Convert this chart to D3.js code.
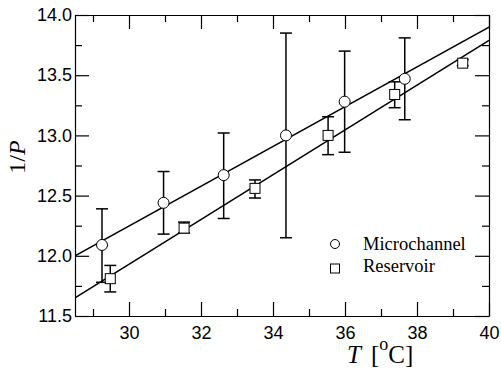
<!DOCTYPE html>
<html>
<head>
<meta charset="utf-8">
<script src="https://cdn.jsdelivr.net/npm/d3@7"></script>
<style>
  body { margin: 0; background: #fff; }
  svg { display: block; }
</style>
</head>
<body>
<div id="chart"></div>
<script>
// microchannel (circles)
const micT = [29.25, 30.96, 32.63, 34.36, 35.99, 37.66];
const micVal = [12.09, 12.44, 12.67, 13.00, 13.28, 13.47];
const micLo = [11.78, 12.18, 12.31, 12.15, 12.86, 13.13];
const micHi = [12.39, 12.70, 13.02, 13.85, 13.70, 13.81];

// reservoir (squares)
const resT = [29.48, 31.53, 33.50, 35.53, 37.38, 39.27];
const resVal = [11.81, 12.23, 12.56, 13.00, 13.34, 13.60];
const resLo = [11.70, 12.19, 12.48, 12.84, 13.23, 13.58];
const resHi = [11.92, 12.28, 12.63, 13.155, 13.445, 13.63];

// linear fits
const fitT = [28.5, 40];
const micFit = [12.00, 13.90];
const resFit = [11.65, 13.79];

// ticks
const xMajor = [30, 32, 34, 36, 38, 40];
const xMinor = [29, 31, 33, 35, 37, 39];
const yMajor = [11.5, 12.0, 12.5, 13.0, 13.5, 14.0];
const yMinor = [11.75, 12.25, 12.75, 13.25, 13.75];

const margin = { top: 15, right: 12, bottom: 55, left: 75 };
const width = 501 - margin.left - margin.right;
const height = 371 - margin.top - margin.bottom;

const x = d3.scaleLinear().domain([28.5, 40]).range([0, width]);
const y = d3.scaleLinear().domain([11.5, 14]).range([height, 0]);

const svg = d3.select("#chart")
    .append("svg")
    .attr("width", width + margin.left + margin.right)
    .attr("height", height + margin.top + margin.bottom)
    .append("g")
    .attr("transform", `translate(${margin.left}, ${margin.top})`);

const sans = "'Liberation Sans', Arial, Helvetica, sans-serif";
const serif = "'Liberation Serif', 'Times New Roman', Times, serif";

// axes with inward ticks
function styleAxis(g) {
    g.selectAll("path, line").attr("stroke", "#000").attr("stroke-width", 1.2);
    g.selectAll("text").attr("fill", "#000").style("font-family", sans).style("font-size", "18px");
}

svg.append("g")
    .attr("transform", `translate(0, ${height})`)
    .call(d3.axisBottom(x).tickValues(xMajor).tickSizeInner(-14).tickSizeOuter(0)
        .tickPadding(10).tickFormat(d3.format("d")))
    .call(styleAxis);
svg.append("g")
    .attr("transform", `translate(0, ${height})`)
    .call(d3.axisBottom(x).tickValues(xMinor).tickSize(-7).tickFormat(""))
    .call(g => g.select(".domain").remove())
    .call(styleAxis);

svg.append("g")
    .call(d3.axisTop(x).tickValues(xMajor).tickSizeInner(-14).tickSizeOuter(0).tickFormat(""))
    .call(styleAxis);
svg.append("g")
    .call(d3.axisTop(x).tickValues(xMinor).tickSize(-7).tickFormat(""))
    .call(g => g.select(".domain").remove())
    .call(styleAxis);

svg.append("g")
    .call(d3.axisLeft(y).tickValues(yMajor).tickSizeInner(-14).tickSizeOuter(0)
        .tickPadding(4).tickFormat(d3.format(".1f")))
    .call(styleAxis)
    .call(g => g.selectAll("text").attr("x", -3));
svg.append("g")
    .call(d3.axisLeft(y).tickValues(yMinor).tickSize(-7).tickFormat(""))
    .call(g => g.select(".domain").remove())
    .call(styleAxis);

svg.append("g")
    .attr("transform", `translate(${width}, 0)`)
    .call(d3.axisRight(y).tickValues(yMajor).tickSizeInner(-14).tickSizeOuter(0).tickFormat(""))
    .call(styleAxis);
svg.append("g")
    .attr("transform", `translate(${width}, 0)`)
    .call(d3.axisRight(y).tickValues(yMinor).tickSize(-7).tickFormat(""))
    .call(g => g.select(".domain").remove())
    .call(styleAxis);

// clip for fit lines
svg.append("clipPath").attr("id", "plot-clip")
    .append("rect").attr("width", width).attr("height", height);

const line = d3.line().x(d => x(d[0])).y(d => y(d[1]));

[micFit, resFit].forEach(fit => {
    svg.append("path")
        .datum(fitT.map((t, i) => [t, fit[i]]))
        .attr("clip-path", "url(#plot-clip)")
        .attr("fill", "none")
        .attr("stroke", "#000")
        .attr("stroke-width", 1.5)
        .attr("d", line);
});

// error bars
function errorBars(ts, lo, hi) {
    const g = svg.append("g").attr("stroke", "#000").attr("stroke-width", 1.5);
    ts.forEach((t, i) => {
        g.append("line").attr("x1", x(t)).attr("x2", x(t)).attr("y1", y(lo[i])).attr("y2", y(hi[i]));
        [lo[i], hi[i]].forEach(v => {
            g.append("line").attr("x1", x(t) - 6).attr("x2", x(t) + 6).attr("y1", y(v)).attr("y2", y(v));
        });
    });
}
errorBars(micT, micLo, micHi);
errorBars(resT, resLo, resHi);

// markers
svg.selectAll(".dotMic")
    .data(micT.map((t, i) => [t, micVal[i]]))
    .enter().append("circle")
    .attr("class", "dotMic")
    .attr("cx", d => x(d[0]))
    .attr("cy", d => y(d[1]))
    .attr("r", 5.5)
    .attr("fill", "#fff")
    .attr("stroke", "#000")
    .attr("stroke-width", 1);

svg.selectAll(".dotRes")
    .data(resT.map((t, i) => [t, resVal[i]]))
    .enter().append("rect")
    .attr("class", "dotRes")
    .attr("x", d => x(d[0]) - 5)
    .attr("y", d => y(d[1]) - 5)
    .attr("width", 10)
    .attr("height", 10)
    .attr("fill", "#fff")
    .attr("stroke", "#000")
    .attr("stroke-width", 1);

// legend
const legend = svg.append("g").attr("transform", `translate(${335 - margin.left}, ${244 - margin.top})`);
legend.append("circle").attr("cx", 0).attr("cy", 0).attr("r", 4.5)
    .attr("fill", "#fff").attr("stroke", "#000").attr("stroke-width", 1);
legend.append("rect").attr("x", -4.5).attr("y", 20).attr("width", 9).attr("height", 9)
    .attr("fill", "#fff").attr("stroke", "#000").attr("stroke-width", 1);
legend.append("text").attr("x", 28).attr("y", 6)
    .style("font-family", serif).style("font-size", "18.5px").text("Microchannel");
legend.append("text").attr("x", 28).attr("y", 28)
    .style("font-family", serif).style("font-size", "18.5px").text("Reservoir");

// y-axis title
const yTitle = svg.append("text")
    .attr("transform", `translate(${25 - margin.left}, ${157 - margin.top}) rotate(-90)`)
    .attr("text-anchor", "middle")
    .style("font-family", serif)
    .style("font-size", "24px");
yTitle.append("tspan").text("1/");
yTitle.append("tspan").style("font-style", "italic").text("P");

// x-axis title
const xTitle = svg.append("text")
    .attr("x", 347 - margin.left)
    .attr("y", 363 - margin.top)
    .style("font-family", serif)
    .style("font-size", "25px");
xTitle.append("tspan").style("font-style", "italic").text("T");
xTitle.append("tspan").attr("dx", 10).text("[");
xTitle.append("tspan").attr("dy", -13).style("font-size", "18px").text("o");
xTitle.append("tspan").attr("dy", 13).text("C]");
</script>
</body>
</html>
